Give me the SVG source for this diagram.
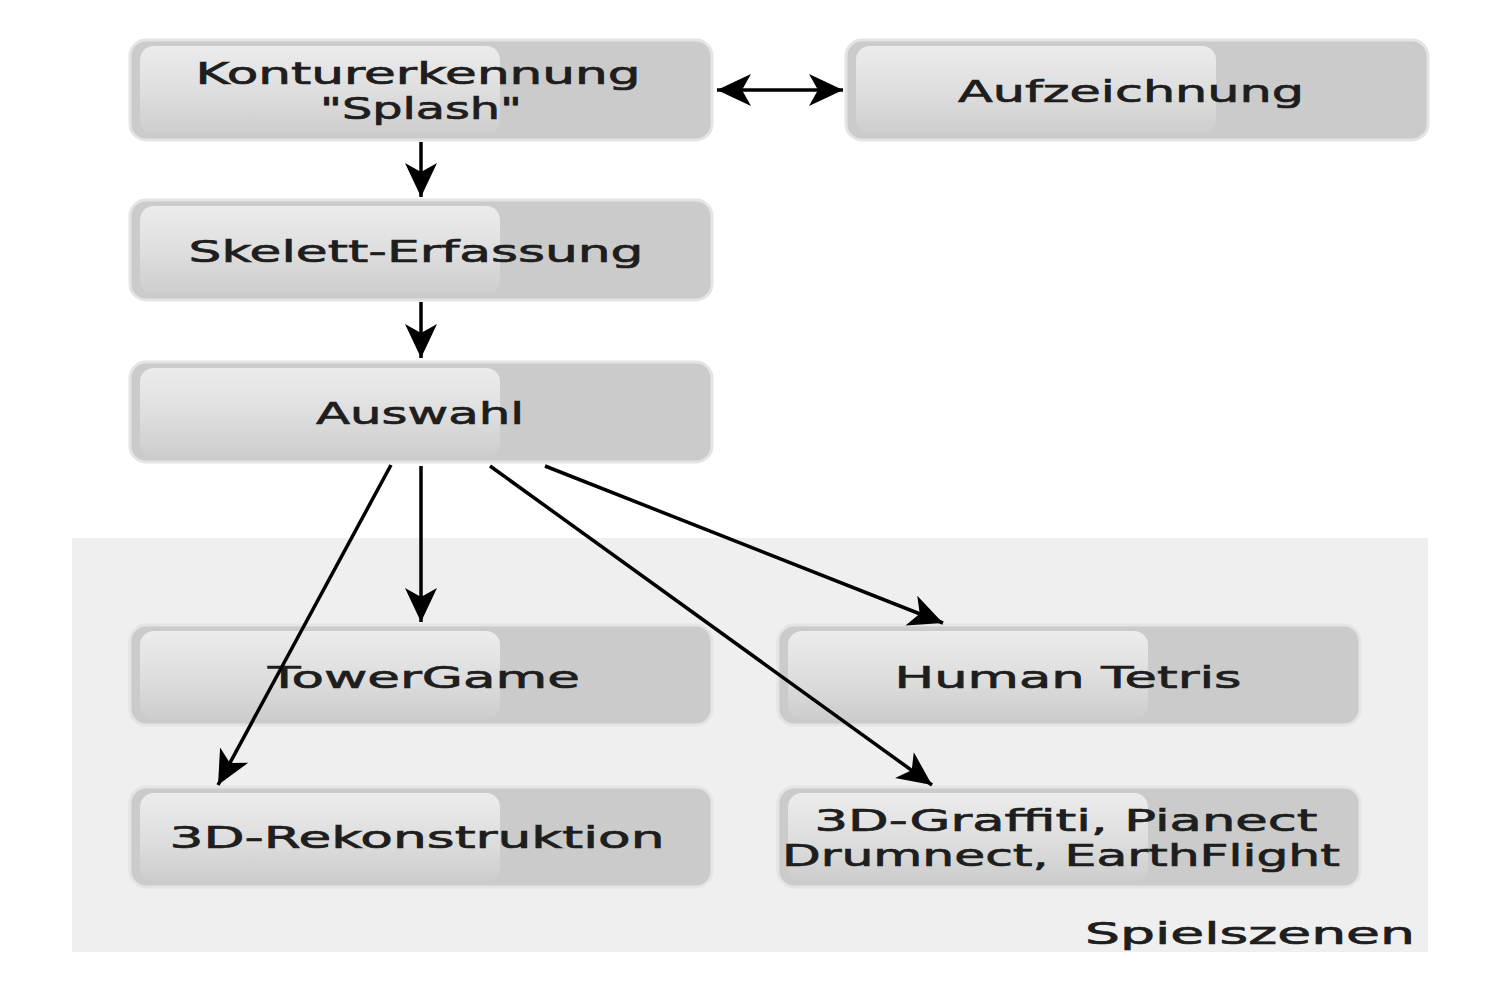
<svg xmlns="http://www.w3.org/2000/svg" width="1500" height="994" viewBox="0 0 1500 994">
<style>
.box{fill:#cbcbcb;stroke:#e4e4e4;stroke-width:3}
.gloss{fill:url(#gl)}
.t{font-family:"DejaVu Sans",sans-serif;font-size:31px;fill:#1e1e1e;stroke:#1e1e1e;stroke-width:0.7;text-anchor:middle}
.t2{font-size:30px}
.c{stroke:#000;stroke-width:3.5;fill:none}
</style>
<defs>
<linearGradient id="gl" x1="0" y1="0" x2="0" y2="1">
<stop offset="0" stop-color="#ececec"/>
<stop offset="0.55" stop-color="#dddddd"/>
<stop offset="1" stop-color="#cdcdcd"/>
</linearGradient>
<marker id="ah" markerUnits="userSpaceOnUse" markerWidth="36" markerHeight="36" viewBox="0 0 36 36" refX="34" refY="18" orient="auto-start-reverse">
<path d="M0,2 L34,18 L0,34 L9,18 z" fill="#000"/>
</marker>
</defs>
<rect width="1500" height="994" fill="#fff"/>
<g id="spielszenen">
<rect x="72" y="538" width="1356" height="414" fill="#efefef"/>
<text class="t" x="1415" y="944" style="text-anchor:end" textLength="330" lengthAdjust="spacingAndGlyphs">Spielszenen</text>
</g>
<g id="konturerkennung">
<rect class="box" x="130" y="40" width="582" height="100" rx="16"/>
<rect class="gloss" x="140" y="46" width="360" height="88" rx="14"/>
<text class="t t2" x="418" y="84" textLength="445" lengthAdjust="spacingAndGlyphs">Konturerkennung</text>
<text class="t t2" x="421" y="119" textLength="202" lengthAdjust="spacingAndGlyphs">"Splash"</text>
</g>
<g id="aufzeichnung">
<rect class="box" x="846" y="40" width="582" height="100" rx="16"/>
<rect class="gloss" x="856" y="46" width="360" height="88" rx="14"/>
<text class="t" x="1131" y="102" textLength="346" lengthAdjust="spacingAndGlyphs">Aufzeichnung</text>
</g>
<g id="skelett">
<rect class="box" x="130" y="200" width="582" height="100" rx="16"/>
<rect class="gloss" x="140" y="206" width="360" height="88" rx="14"/>
<text class="t" x="416" y="262" textLength="455" lengthAdjust="spacingAndGlyphs">Skelett-Erfassung</text>
</g>
<g id="auswahl">
<rect class="box" x="130" y="362" width="582" height="100" rx="16"/>
<rect class="gloss" x="140" y="368" width="360" height="88" rx="14"/>
<text class="t" x="420" y="424" textLength="208" lengthAdjust="spacingAndGlyphs">Auswahl</text>
</g>
<g id="towergame">
<rect class="box" x="130" y="625" width="582" height="100" rx="16"/>
<rect class="gloss" x="140" y="631" width="360" height="88" rx="14"/>
<text class="t" x="424" y="688" textLength="312" lengthAdjust="spacingAndGlyphs">TowerGame</text>
</g>
<g id="humantetris">
<rect class="box" x="778" y="625" width="582" height="100" rx="16"/>
<rect class="gloss" x="788" y="631" width="360" height="88" rx="14"/>
<text class="t" x="1068" y="688" textLength="347" lengthAdjust="spacingAndGlyphs">Human Tetris</text>
</g>
<g id="rekonstruktion">
<rect class="box" x="130" y="787" width="582" height="100" rx="16"/>
<rect class="gloss" x="140" y="793" width="360" height="88" rx="14"/>
<text class="t" x="417" y="848" textLength="495" lengthAdjust="spacingAndGlyphs">3D-Rekonstruktion</text>
</g>
<g id="graffiti">
<rect class="box" x="778" y="787" width="582" height="100" rx="16"/>
<rect class="gloss" x="788" y="793" width="360" height="88" rx="14"/>
<text class="t t2" x="1066" y="831" textLength="503" lengthAdjust="spacingAndGlyphs">3D-Graffiti, Pianect</text>
<text class="t t2" x="1061" y="866" textLength="558" lengthAdjust="spacingAndGlyphs">Drumnect, EarthFlight</text>
</g>
<g id="connectors">
<line class="c" x1="717" y1="90" x2="843" y2="90" marker-start="url(#ah)" marker-end="url(#ah)"/>
<line class="c" x1="421" y1="142" x2="421" y2="197" marker-end="url(#ah)"/>
<line class="c" x1="421" y1="302" x2="421" y2="358" marker-end="url(#ah)"/>
<line class="c" x1="421" y1="466" x2="421" y2="622" marker-end="url(#ah)"/>
<line class="c" x1="391" y1="465" x2="218" y2="785" marker-end="url(#ah)"/>
<line class="c" x1="490" y1="466" x2="932" y2="785" marker-end="url(#ah)"/>
<line class="c" x1="545" y1="466" x2="943" y2="623" marker-end="url(#ah)"/>
</g>
</svg>
